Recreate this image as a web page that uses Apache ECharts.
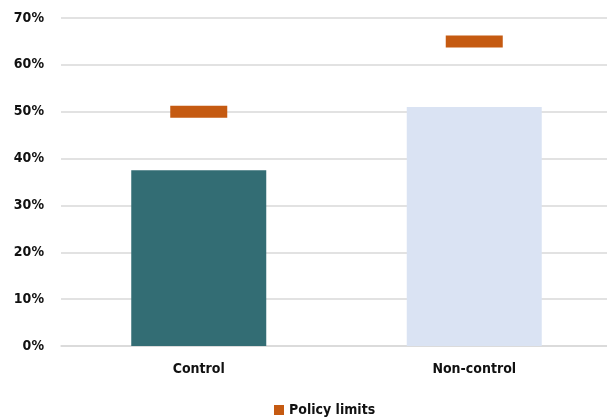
<!DOCTYPE html>
<html>
<head>
<meta charset="utf-8">
<script src="https://cdn.jsdelivr.net/npm/echarts@6/dist/echarts.min.js"></script>
<style>html,body{margin:0;padding:0;background:#fff;}#c{width:607px;height:417px;}</style>
</head>
<body>
<div id="c"></div>
<script>
var categories = ['Control', 'Non-control'];
var shareValues = [37.5, 51];
var policyLimits = [50, 65];
var yTicks = [0, 10, 20, 30, 40, 50, 60, 70];

var FONT = '"Liberation Sans Narrow", "DejaVu Sans Condensed", sans-serif';
var barColors = ['#336d74', '#dae3f3'];

var chart = echarts.init(document.getElementById('c'), null, {renderer: 'canvas'});
chart.setOption({
  animation: false,
  backgroundColor: '#ffffff',
  grid: {left: 61, width: 551, top: 18, bottom: 71, containLabel: false, outerBoundsMode: 'none'},
  legend: {
    data: ['Policy limits'],
    top: 398,
    left: 269,
    icon: 'rect',
    itemWidth: 10,
    itemHeight: 10,
    itemGap: 5,
    itemStyle: {opacity: 1},
    textStyle: {fontFamily: FONT, fontWeight: 'bold', fontSize: 14, color: '#111'}
  },
  xAxis: {
    type: 'category',
    data: categories,
    axisLine: {show: true, lineStyle: {color: '#d9d9d9', width: 1.5}},
    axisTick: {show: false},
    axisLabel: {fontFamily: FONT, fontWeight: 'bold', fontSize: 14, color: '#111', margin: 16}
  },
  yAxis: {
    type: 'value',
    min: yTicks[0],
    max: yTicks[yTicks.length - 1],
    interval: 10,
    axisLine: {show: false},
    axisTick: {show: false},
    splitLine: {lineStyle: {color: '#d9d9d9', width: 1.5}},
    axisLabel: {
      fontFamily: FONT, fontWeight: 'bold', fontSize: 14, color: '#111', margin: 17,
      formatter: function (v) { return v + '%'; }
    }
  },
  series: [
    {
      name: 'Share',
      type: 'bar',
      barWidth: 135,
      data: shareValues.map(function (v, i) {
        return {value: v, itemStyle: {color: barColors[i]}};
      })
    },
    {
      name: 'Policy limits',
      type: 'scatter',
      symbol: 'rect',
      symbolSize: [57, 12],
      itemStyle: {color: '#c55a11', opacity: 1},
      data: policyLimits
    }
  ]
});
</script>
</body>
</html>
